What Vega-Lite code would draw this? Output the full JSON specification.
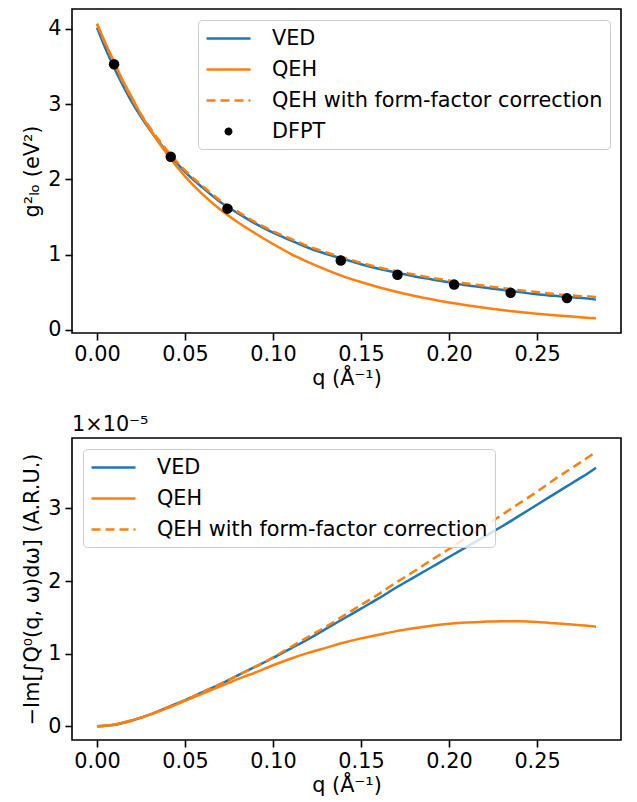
{
  "$schema": "https://vega.github.io/schema/vega-lite/v6.json",
  "autosize": {"type": "pad"},
  "padding": {"left": 20, "top": 8, "right": 5, "bottom": 5},
  "background": "white",
  "config": {
    "font": "DejaVu Sans",
    "view": {"stroke": "black", "strokeWidth": 1.6},
    "axis": {"domain": false, "grid": false, "ticks": true, "tickColor": "black", "tickSize": 7, "tickWidth": 1.6,
      "labelFont": "DejaVu Sans", "labelFontSize": 20.8, "labelColor": "black", "labelPadding": 4, "labelFlush": false, "labelOverlap": false,
      "titleFont": "DejaVu Sans", "titleFontSize": 20.8, "titleFontWeight": "normal", "titleColor": "black", "titlePadding": 5},
    "legend": {"labelFont": "DejaVu Sans", "labelFontSize": 20.8, "labelColor": "black", "labelLimit": 0, "fillColor": "rgba(255,255,255,0.8)", "strokeColor": "#cccccc", "cornerRadius": 4, "padding": 7, "rowPadding": 9, "symbolSize": 400, "symbolOffset": 12, "labelOffset": 32, "symbolStrokeWidth": 2.5}
  },
  "datasets": {
    "top": [
      {"q": 0, "g2": 4.02, "series": "VED"}, {"q": 0.005, "g2": 3.73, "series": "VED"}, {"q": 0.01, "g2": 3.47, "series": "VED"}, {"q": 0.015, "g2": 3.235, "series": "VED"}, {"q": 0.02, "g2": 3.02, "series": "VED"}, {"q": 0.025, "g2": 2.833, "series": "VED"}, {"q": 0.03, "g2": 2.66, "series": "VED"}, {"q": 0.04, "g2": 2.36, "series": "VED"}, {"q": 0.05, "g2": 2.10, "series": "VED"}, {"q": 0.06, "g2": 1.89, "series": "VED"}, {"q": 0.07, "g2": 1.70, "series": "VED"}, {"q": 0.08, "g2": 1.55, "series": "VED"}, {"q": 0.09, "g2": 1.41, "series": "VED"}, {"q": 0.10, "g2": 1.29, "series": "VED"}, {"q": 0.11, "g2": 1.19, "series": "VED"}, {"q": 0.12, "g2": 1.09, "series": "VED"}, {"q": 0.13, "g2": 1.01, "series": "VED"}, {"q": 0.14, "g2": 0.94, "series": "VED"}, {"q": 0.15, "g2": 0.87, "series": "VED"}, {"q": 0.16, "g2": 0.81, "series": "VED"}, {"q": 0.17, "g2": 0.76, "series": "VED"}, {"q": 0.18, "g2": 0.71, "series": "VED"}, {"q": 0.19, "g2": 0.67, "series": "VED"}, {"q": 0.20, "g2": 0.63, "series": "VED"}, {"q": 0.21, "g2": 0.59, "series": "VED"}, {"q": 0.22, "g2": 0.56, "series": "VED"}, {"q": 0.23, "g2": 0.53, "series": "VED"}, {"q": 0.24, "g2": 0.50, "series": "VED"}, {"q": 0.25, "g2": 0.47, "series": "VED"}, {"q": 0.26, "g2": 0.45, "series": "VED"}, {"q": 0.27, "g2": 0.43, "series": "VED"}, {"q": 0.28, "g2": 0.41, "series": "VED"}, {"q": 0.2835, "g2": 0.40, "series": "VED"},
      {"q": 0, "g2": 4.07, "series": "QEH"}, {"q": 0.005, "g2": 3.80, "series": "QEH"}, {"q": 0.01, "g2": 3.55, "series": "QEH"}, {"q": 0.015, "g2": 3.30, "series": "QEH"}, {"q": 0.02, "g2": 3.08, "series": "QEH"}, {"q": 0.025, "g2": 2.86, "series": "QEH"}, {"q": 0.03, "g2": 2.67, "series": "QEH"}, {"q": 0.04, "g2": 2.33, "series": "QEH"}, {"q": 0.05, "g2": 2.04, "series": "QEH"}, {"q": 0.06, "g2": 1.80, "series": "QEH"}, {"q": 0.07, "g2": 1.60, "series": "QEH"}, {"q": 0.08, "g2": 1.43, "series": "QEH"}, {"q": 0.09, "g2": 1.28, "series": "QEH"}, {"q": 0.10, "g2": 1.14, "series": "QEH"}, {"q": 0.11, "g2": 1.01, "series": "QEH"}, {"q": 0.12, "g2": 0.90, "series": "QEH"}, {"q": 0.13, "g2": 0.80, "series": "QEH"}, {"q": 0.14, "g2": 0.71, "series": "QEH"}, {"q": 0.15, "g2": 0.634, "series": "QEH"}, {"q": 0.16, "g2": 0.565, "series": "QEH"}, {"q": 0.17, "g2": 0.505, "series": "QEH"}, {"q": 0.18, "g2": 0.451, "series": "QEH"}, {"q": 0.19, "g2": 0.404, "series": "QEH"}, {"q": 0.20, "g2": 0.362, "series": "QEH"}, {"q": 0.21, "g2": 0.325, "series": "QEH"}, {"q": 0.22, "g2": 0.292, "series": "QEH"}, {"q": 0.23, "g2": 0.262, "series": "QEH"}, {"q": 0.24, "g2": 0.236, "series": "QEH"}, {"q": 0.25, "g2": 0.213, "series": "QEH"}, {"q": 0.26, "g2": 0.192, "series": "QEH"}, {"q": 0.27, "g2": 0.174, "series": "QEH"}, {"q": 0.28, "g2": 0.157, "series": "QEH"}, {"q": 0.2835, "g2": 0.152, "series": "QEH"},
      {"q": 0, "g2": 4.07, "series": "QEH with form-factor correction"}, {"q": 0.005, "g2": 3.79, "series": "QEH with form-factor correction"}, {"q": 0.01, "g2": 3.53, "series": "QEH with form-factor correction"}, {"q": 0.015, "g2": 3.28, "series": "QEH with form-factor correction"}, {"q": 0.02, "g2": 3.06, "series": "QEH with form-factor correction"}, {"q": 0.025, "g2": 2.865, "series": "QEH with form-factor correction"}, {"q": 0.03, "g2": 2.69, "series": "QEH with form-factor correction"}, {"q": 0.04, "g2": 2.38, "series": "QEH with form-factor correction"}, {"q": 0.05, "g2": 2.12, "series": "QEH with form-factor correction"}, {"q": 0.06, "g2": 1.91, "series": "QEH with form-factor correction"}, {"q": 0.07, "g2": 1.72, "series": "QEH with form-factor correction"}, {"q": 0.08, "g2": 1.57, "series": "QEH with form-factor correction"}, {"q": 0.09, "g2": 1.43, "series": "QEH with form-factor correction"}, {"q": 0.10, "g2": 1.31, "series": "QEH with form-factor correction"}, {"q": 0.11, "g2": 1.21, "series": "QEH with form-factor correction"}, {"q": 0.12, "g2": 1.11, "series": "QEH with form-factor correction"}, {"q": 0.13, "g2": 1.03, "series": "QEH with form-factor correction"}, {"q": 0.14, "g2": 0.96, "series": "QEH with form-factor correction"}, {"q": 0.15, "g2": 0.89, "series": "QEH with form-factor correction"}, {"q": 0.16, "g2": 0.83, "series": "QEH with form-factor correction"}, {"q": 0.17, "g2": 0.78, "series": "QEH with form-factor correction"}, {"q": 0.18, "g2": 0.735, "series": "QEH with form-factor correction"}, {"q": 0.19, "g2": 0.69, "series": "QEH with form-factor correction"}, {"q": 0.20, "g2": 0.655, "series": "QEH with form-factor correction"}, {"q": 0.21, "g2": 0.615, "series": "QEH with form-factor correction"}, {"q": 0.22, "g2": 0.585, "series": "QEH with form-factor correction"}, {"q": 0.23, "g2": 0.555, "series": "QEH with form-factor correction"}, {"q": 0.24, "g2": 0.525, "series": "QEH with form-factor correction"}, {"q": 0.25, "g2": 0.50, "series": "QEH with form-factor correction"}, {"q": 0.26, "g2": 0.475, "series": "QEH with form-factor correction"}, {"q": 0.27, "g2": 0.455, "series": "QEH with form-factor correction"}, {"q": 0.28, "g2": 0.44, "series": "QEH with form-factor correction"}, {"q": 0.2835, "g2": 0.435, "series": "QEH with form-factor correction"},
      {"q": 0.0097, "g2": 3.53, "series": "DFPT"}, {"q": 0.0419, "g2": 2.30, "series": "DFPT"}, {"q": 0.0741, "g2": 1.61, "series": "DFPT"}, {"q": 0.1385, "g2": 0.92, "series": "DFPT"}, {"q": 0.1707, "g2": 0.73, "series": "DFPT"}, {"q": 0.2029, "g2": 0.60, "series": "DFPT"}, {"q": 0.2350, "g2": 0.49, "series": "DFPT"}, {"q": 0.2670, "g2": 0.42, "series": "DFPT"}
    ],
    "bottom": [
      {"q": 0, "v": 0, "series": "VED"}, {"q": 0.01, "v": 0.02e-5, "series": "VED"}, {"q": 0.02, "v": 0.08e-5, "series": "VED"}, {"q": 0.03, "v": 0.16e-5, "series": "VED"}, {"q": 0.04, "v": 0.26e-5, "series": "VED"}, {"q": 0.05, "v": 0.36e-5, "series": "VED"}, {"q": 0.06, "v": 0.47e-5, "series": "VED"}, {"q": 0.07, "v": 0.58e-5, "series": "VED"}, {"q": 0.08, "v": 0.70e-5, "series": "VED"}, {"q": 0.09, "v": 0.82e-5, "series": "VED"}, {"q": 0.10, "v": 0.94e-5, "series": "VED"}, {"q": 0.11, "v": 1.07e-5, "series": "VED"}, {"q": 0.12, "v": 1.20e-5, "series": "VED"}, {"q": 0.13, "v": 1.34e-5, "series": "VED"}, {"q": 0.14, "v": 1.48e-5, "series": "VED"}, {"q": 0.15, "v": 1.62e-5, "series": "VED"}, {"q": 0.16, "v": 1.76e-5, "series": "VED"}, {"q": 0.17, "v": 1.91e-5, "series": "VED"}, {"q": 0.18, "v": 2.05e-5, "series": "VED"}, {"q": 0.19, "v": 2.19e-5, "series": "VED"}, {"q": 0.20, "v": 2.33e-5, "series": "VED"}, {"q": 0.21, "v": 2.47e-5, "series": "VED"}, {"q": 0.22, "v": 2.61e-5, "series": "VED"}, {"q": 0.23, "v": 2.75e-5, "series": "VED"}, {"q": 0.24, "v": 2.90e-5, "series": "VED"}, {"q": 0.25, "v": 3.05e-5, "series": "VED"}, {"q": 0.26, "v": 3.20e-5, "series": "VED"}, {"q": 0.27, "v": 3.35e-5, "series": "VED"}, {"q": 0.28, "v": 3.50e-5, "series": "VED"}, {"q": 0.2835, "v": 3.56e-5, "series": "VED"},
      {"q": 0, "v": 0, "series": "QEH"}, {"q": 0.01, "v": 0.025e-5, "series": "QEH"}, {"q": 0.02, "v": 0.085e-5, "series": "QEH"}, {"q": 0.03, "v": 0.16e-5, "series": "QEH"}, {"q": 0.04, "v": 0.25e-5, "series": "QEH"}, {"q": 0.05, "v": 0.35e-5, "series": "QEH"}, {"q": 0.06, "v": 0.45e-5, "series": "QEH"}, {"q": 0.07, "v": 0.55e-5, "series": "QEH"}, {"q": 0.08, "v": 0.65e-5, "series": "QEH"}, {"q": 0.09, "v": 0.74e-5, "series": "QEH"}, {"q": 0.10, "v": 0.84e-5, "series": "QEH"}, {"q": 0.11, "v": 0.93e-5, "series": "QEH"}, {"q": 0.12, "v": 1.01e-5, "series": "QEH"}, {"q": 0.13, "v": 1.08e-5, "series": "QEH"}, {"q": 0.14, "v": 1.15e-5, "series": "QEH"}, {"q": 0.15, "v": 1.21e-5, "series": "QEH"}, {"q": 0.16, "v": 1.26e-5, "series": "QEH"}, {"q": 0.17, "v": 1.31e-5, "series": "QEH"}, {"q": 0.18, "v": 1.35e-5, "series": "QEH"}, {"q": 0.19, "v": 1.385e-5, "series": "QEH"}, {"q": 0.20, "v": 1.41e-5, "series": "QEH"}, {"q": 0.21, "v": 1.428e-5, "series": "QEH"}, {"q": 0.22, "v": 1.44e-5, "series": "QEH"}, {"q": 0.23, "v": 1.447e-5, "series": "QEH"}, {"q": 0.24, "v": 1.445e-5, "series": "QEH"}, {"q": 0.25, "v": 1.435e-5, "series": "QEH"}, {"q": 0.26, "v": 1.418e-5, "series": "QEH"}, {"q": 0.27, "v": 1.40e-5, "series": "QEH"}, {"q": 0.28, "v": 1.38e-5, "series": "QEH"}, {"q": 0.2835, "v": 1.37e-5, "series": "QEH"},
      {"q": 0, "v": 0, "series": "QEH with form-factor correction"}, {"q": 0.01, "v": 0.02e-5, "series": "QEH with form-factor correction"}, {"q": 0.02, "v": 0.08e-5, "series": "QEH with form-factor correction"}, {"q": 0.03, "v": 0.16e-5, "series": "QEH with form-factor correction"}, {"q": 0.04, "v": 0.26e-5, "series": "QEH with form-factor correction"}, {"q": 0.05, "v": 0.36e-5, "series": "QEH with form-factor correction"}, {"q": 0.06, "v": 0.47e-5, "series": "QEH with form-factor correction"}, {"q": 0.07, "v": 0.58e-5, "series": "QEH with form-factor correction"}, {"q": 0.08, "v": 0.70e-5, "series": "QEH with form-factor correction"}, {"q": 0.09, "v": 0.82e-5, "series": "QEH with form-factor correction"}, {"q": 0.10, "v": 0.95e-5, "series": "QEH with form-factor correction"}, {"q": 0.11, "v": 1.09e-5, "series": "QEH with form-factor correction"}, {"q": 0.12, "v": 1.23e-5, "series": "QEH with form-factor correction"}, {"q": 0.13, "v": 1.37e-5, "series": "QEH with form-factor correction"}, {"q": 0.14, "v": 1.52e-5, "series": "QEH with form-factor correction"}, {"q": 0.15, "v": 1.67e-5, "series": "QEH with form-factor correction"}, {"q": 0.16, "v": 1.82e-5, "series": "QEH with form-factor correction"}, {"q": 0.17, "v": 1.98e-5, "series": "QEH with form-factor correction"}, {"q": 0.18, "v": 2.13e-5, "series": "QEH with form-factor correction"}, {"q": 0.19, "v": 2.29e-5, "series": "QEH with form-factor correction"}, {"q": 0.20, "v": 2.44e-5, "series": "QEH with form-factor correction"}, {"q": 0.21, "v": 2.60e-5, "series": "QEH with form-factor correction"}, {"q": 0.22, "v": 2.75e-5, "series": "QEH with form-factor correction"}, {"q": 0.23, "v": 2.91e-5, "series": "QEH with form-factor correction"}, {"q": 0.24, "v": 3.07e-5, "series": "QEH with form-factor correction"}, {"q": 0.25, "v": 3.23e-5, "series": "QEH with form-factor correction"}, {"q": 0.26, "v": 3.40e-5, "series": "QEH with form-factor correction"}, {"q": 0.27, "v": 3.56e-5, "series": "QEH with form-factor correction"}, {"q": 0.28, "v": 3.72e-5, "series": "QEH with form-factor correction"}, {"q": 0.2835, "v": 3.78e-5, "series": "QEH with form-factor correction"}
    ]
  },
  "bounds": "flush",
  "spacing": 105,
  "resolve": {"scale": {"color": "independent"}, "legend": {"color": "independent"}},
  "vconcat": [
    {
      "width": 549,
      "height": 324,
      "data": {"name": "top"},
      "encoding": {
        "x": {"field": "q", "type": "quantitative", "scale": {"domain": [-0.0142, 0.2977], "nice": false, "zero": false},
          "axis": {"values": [0, 0.05, 0.1, 0.15, 0.2, 0.25], "format": ".2f", "title": "q (Å⁻¹)"}},
        "y": {"field": "g2", "type": "quantitative", "scale": {"domain": [-0.044, 4.266], "nice": false, "zero": false},
          "axis": {"values": [0, 1, 2, 3, 4], "format": "d", "title": "g²ₗₒ (eV²)"}},
        "color": {"field": "series", "type": "nominal",
          "scale": {"domain": ["VED", "QEH", "QEH with form-factor correction", "DFPT"], "range": ["#1f77b4", "#ff7f0e", "#ff7f0e", "black"]},
          "legend": {"title": null, "orient": "top-right", "offset": 11,
            "encode": {"symbols": {"update": {
              "shape": {"signal": "datum.value === 'DFPT' ? 'M-0.27,0A0.27,0.27 0 1,0 0.27,0A0.27,0.27 0 1,0 -0.27,0Z' : 'M-2.2,0H2.2'"},
              "size": {"value": 400},
              "fill": {"signal": "datum.value === 'DFPT' ? 'black' : 'transparent'"},
              "stroke": {"signal": "datum.value === 'DFPT' ? 'transparent' : (datum.value === 'VED' ? '#1f77b4' : '#ff7f0e')"},
              "strokeDash": {"signal": "datum.value === 'QEH with form-factor correction' ? [9, 5] : [1, 0]"},
              "strokeWidth": {"value": 2.5},
              "opacity": {"value": 1}
            }}}}}
      },
      "layer": [
        {"transform": [{"filter": "datum.series === 'VED' || datum.series === 'QEH'"}],
          "mark": {"type": "line", "strokeWidth": 2.5, "interpolate": "monotone"}},
        {"transform": [{"filter": "datum.series === 'QEH with form-factor correction'"}],
          "mark": {"type": "line", "strokeWidth": 2.5, "strokeDash": [9, 5], "interpolate": "monotone"}},
        {"transform": [{"filter": "datum.series === 'DFPT'"}],
          "mark": {"type": "point", "shape": "circle", "filled": true, "size": 110, "opacity": 1}}
      ]
    },
    {
      "width": 549,
      "height": 302,
      "data": {"name": "bottom"},
      "title": {"text": "1×10⁻⁵", "anchor": "start", "frame": "group", "orient": "top", "fontSize": 20.8, "font": "DejaVu Sans", "fontWeight": "normal", "color": "black", "offset": 2},
      "encoding": {
        "x": {"field": "q", "type": "quantitative", "scale": {"domain": [-0.0142, 0.2977], "nice": false, "zero": false},
          "axis": {"values": [0, 0.05, 0.1, 0.15, 0.2, 0.25], "format": ".2f", "title": "q (Å⁻¹)"}},
        "y": {"field": "v", "type": "quantitative", "scale": {"domain": [-0.189e-5, 3.969e-5], "nice": false, "zero": false},
          "axis": {"values": [0, 1e-5, 2e-5, 3e-5], "labelExpr": "format(datum.value * 1e5, '.0f')", "title": "−Im[∫Q⁰(q, ω)dω] (A.R.U.)"}},
        "color": {"field": "series", "type": "nominal",
          "scale": {"domain": ["VED", "QEH", "QEH with form-factor correction"], "range": ["#1f77b4", "#ff7f0e", "#ff7f0e"]},
          "legend": {"title": null, "orient": "top-left", "offset": 11,
            "encode": {"symbols": {"update": {
              "shape": {"value": "M-2.2,0H2.2"},
              "size": {"value": 400},
              "fill": {"value": "transparent"},
              "stroke": {"signal": "datum.value === 'VED' ? '#1f77b4' : '#ff7f0e'"},
              "strokeDash": {"signal": "datum.value === 'QEH with form-factor correction' ? [9, 5] : [1, 0]"},
              "strokeWidth": {"value": 2.5},
              "opacity": {"value": 1}
            }}}}}
      },
      "layer": [
        {"transform": [{"filter": "datum.series !== 'QEH with form-factor correction'"}],
          "mark": {"type": "line", "strokeWidth": 2.5, "interpolate": "monotone"}},
        {"transform": [{"filter": "datum.series === 'QEH with form-factor correction'"}],
          "mark": {"type": "line", "strokeWidth": 2.5, "strokeDash": [9, 5], "interpolate": "monotone"}}
      ]
    }
  ]
}
